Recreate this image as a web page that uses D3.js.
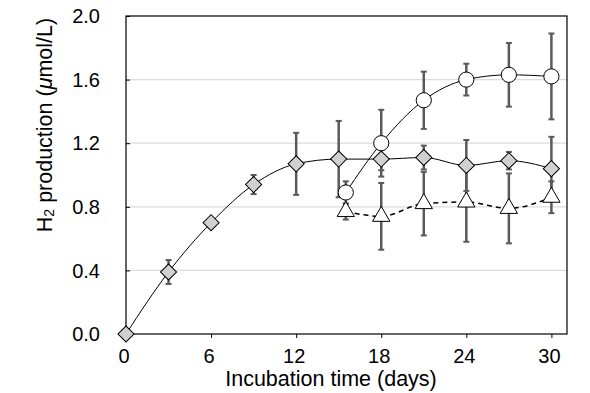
<!DOCTYPE html>
<html>
<head>
<meta charset="utf-8">
<script src="https://cdn.jsdelivr.net/npm/d3@7"></script>
<style>
  body { margin: 0; background: #fff; }
  text { font-family: "Liberation Sans", Arial, sans-serif; fill: #000; }
</style>
</head>
<body>
<div id="chart"></div>
<script>
const width = 590;
const height = 393;

// diamond series (grey)
const daysA = [0, 3, 6, 9, 12, 15, 18, 21, 24, 27, 30];
const valsA = [0, 0.39, 0.70, 0.94, 1.07, 1.10, 1.10, 1.11, 1.06, 1.09, 1.04];
const errA  = [0, 0.075, 0.01, 0.06, 0.195, 0.24, 0.07, 0.075, 0.16, 0.055, 0.2];

// circle series
const daysB = [15.5, 18, 21, 24, 27, 30];
const valsB = [0.89, 1.20, 1.47, 1.60, 1.63, 1.62];
const errB  = [0.07, 0.21, 0.18, 0.10, 0.20, 0.27];

// triangle series (dashed)
const daysC = [15.5, 18, 21, 24, 27, 30];
const valsC = [0.77, 0.74, 0.82, 0.83, 0.79, 0.86];
const errC  = [0.05, 0.21, 0.20, 0.25, 0.22, 0.10];

const xTicks = [0, 6, 12, 18, 24, 30];
const yTicks = [0, 0.4, 0.8, 1.2, 1.6, 2.0];

const svg = d3.select('#chart').append('svg')
  .attr('width', width)
  .attr('height', height);

const x = d3.scaleLinear().domain([0, 31.1]).range([126, 567]);
const y = d3.scaleLinear().domain([0, 2]).range([334, 16]);

// gridlines
svg.append('g')
  .selectAll('line')
  .data(yTicks.filter(d => d > 0 && d < 2))
  .join('line')
    .attr('x1', x.range()[0]).attr('x2', x.range()[1])
    .attr('y1', d => y(d)).attr('y2', d => y(d))
    .attr('stroke', '#dcdcdc').attr('stroke-width', 1.2);

// axes
const yAxis = svg.append('g')
  .attr('transform', `translate(${x.range()[0]},0)`)
  .call(d3.axisRight(y).tickValues(yTicks).tickSize(4).tickFormat(''));
yAxis.select('.domain').remove();
yAxis.selectAll('.tick line').attr('stroke', '#000');

svg.append('g')
  .selectAll('text')
  .data(yTicks)
  .join('text')
    .attr('x', 100)
    .attr('y', d => y(d))
    .attr('dy', '0.36em')
    .attr('text-anchor', 'end')
    .style('font-size', '20px')
    .text(d3.format('.1f'));

const xAxis = svg.append('g')
  .attr('transform', `translate(0,${y.range()[0]})`)
  .call(d3.axisBottom(x).tickValues(xTicks).tickSize(4).tickFormat(''));
xAxis.select('.domain').remove();
xAxis.selectAll('.tick line').attr('stroke', '#000');

svg.append('g')
  .selectAll('text')
  .data(xTicks)
  .join('text')
    .attr('x', d => x(d) - 2)
    .attr('y', 363)
    .attr('text-anchor', 'middle')
    .style('font-size', '20px')
    .text(d => d);

// frame
svg.append('rect')
  .attr('x', x.range()[0]).attr('y', y.range()[1])
  .attr('width', x.range()[1] - x.range()[0])
  .attr('height', y.range()[0] - y.range()[1])
  .attr('fill', 'none').attr('stroke', '#000').attr('stroke-width', 1.2);

// axis titles
svg.append('text')
  .attr('x', 331).attr('y', 386)
  .attr('text-anchor', 'middle')
  .style('font-size', '21.5px')
  .text('Incubation time (days)');

const yt = svg.append('text')
  .attr('transform', 'translate(52,125) rotate(-90)')
  .attr('text-anchor', 'middle')
  .style('font-size', '21.5px');
yt.append('tspan').text('H');
yt.append('tspan').attr('font-size', '14px').attr('dy', 2).text('2');
yt.append('tspan').attr('dy', -2).text(' production (');
yt.append('tspan').attr('font-style', 'italic').text('μ');
yt.append('tspan').text('mol/L)');

const series = [
  {days: daysA, vals: valsA, err: errA, shape: 'diamond', dash: null},
  {days: daysB, vals: valsB, err: errB, shape: 'circle', dash: null},
  {days: daysC, vals: valsC, err: errC, shape: 'triangle', dash: '5,4'}
];

const line = d3.line()
  .x(d => x(d[0]))
  .y(d => y(d[1]))
  .curve(d3.curveMonotoneX);

// lines
series.forEach(s => {
  svg.append('path')
    .datum(s.days.map((d, i) => [d, s.vals[i]]))
    .attr('d', line)
    .attr('fill', 'none')
    .attr('stroke', '#000')
    .attr('stroke-width', s.dash ? 1.5 : 1)
    .attr('stroke-dasharray', s.dash);
});

// error bars
series.forEach(s => {
  const g = svg.append('g').attr('stroke', '#5a5a5a').attr('stroke-width', 2.5);
  s.days.forEach((d, i) => {
    if (s.err[i] < 0.03) return;
    const lo = y(s.vals[i] - s.err[i]), hi = y(s.vals[i] + s.err[i]);
    g.append('line').attr('x1', x(d)).attr('x2', x(d)).attr('y1', lo).attr('y2', hi);
    g.append('line').attr('x1', x(d) - 3).attr('x2', x(d) + 3).attr('y1', lo).attr('y2', lo).attr('stroke-width', 2);
    g.append('line').attr('x1', x(d) - 3).attr('x2', x(d) + 3).attr('y1', hi).attr('y2', hi).attr('stroke-width', 2);
  });
});

// markers
const symbols = {
  diamond: d3.symbol().type(d3.symbolSquare).size(130),
  circle: d3.symbol().type(d3.symbolCircle).size(Math.PI * 7.6 * 7.6),
  triangle: d3.symbol().type(d3.symbolTriangle).size(130)
};
series.forEach(s => {
  svg.append('g')
    .selectAll('path')
    .data(s.days.map((d, i) => [d, s.vals[i]]))
    .join('path')
      .attr('d', symbols[s.shape])
      .attr('transform', d => `translate(${x(d[0])},${y(d[1])})` + (s.shape === 'diamond' ? ' rotate(45)' : ''))
      .attr('fill', s.shape === 'diamond' ? '#d0d0d0' : '#fff')
      .attr('stroke', '#000')
      .attr('stroke-width', 1);
});
</script>
</body>
</html>
